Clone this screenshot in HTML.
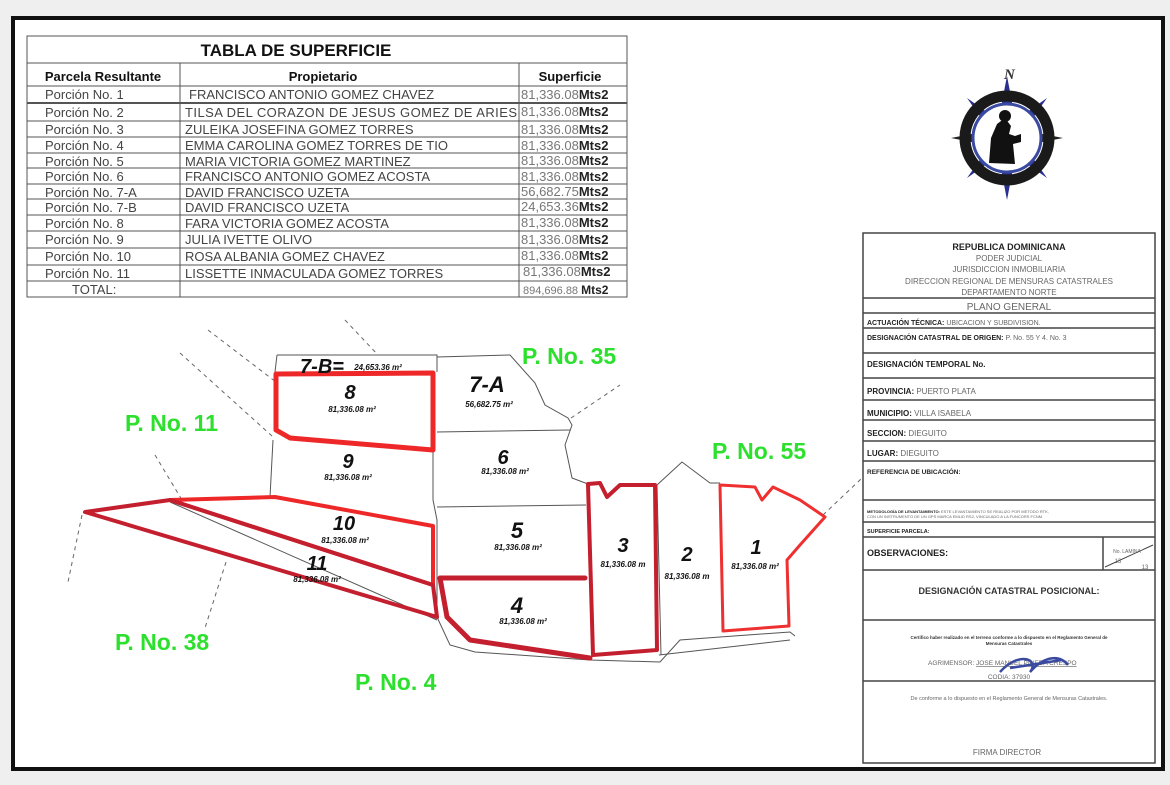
<!DOCTYPE html>
<html><head><meta charset="utf-8"><style>
body{margin:0;width:1170px;height:785px;background:#f2f2f2;position:relative;overflow:hidden;font-family:"Liberation Sans",sans-serif}
</style></head><body>
<svg width="1170" height="785" style="position:absolute;left:0;top:0" font-family="Liberation Sans, sans-serif">
<rect x="0" y="0" width="1170" height="785" fill="#efefef"/>
<rect x="13" y="18" width="1150" height="751" fill="#fff" stroke="#111" stroke-width="4"/>
<g stroke="#555" stroke-width="1" fill="none">
<rect x="27" y="36" width="600" height="261"/>
<line x1="27" y1="63" x2="627" y2="63"/>
<line x1="27" y1="86" x2="627" y2="86"/>
<line x1="27" y1="103" x2="627" y2="103" stroke-width="2"/>
<line x1="27" y1="121" x2="627" y2="121"/>
<line x1="27" y1="137" x2="627" y2="137"/>
<line x1="27" y1="153" x2="627" y2="153"/>
<line x1="27" y1="168" x2="627" y2="168"/>
<line x1="27" y1="184" x2="627" y2="184"/>
<line x1="27" y1="199" x2="627" y2="199"/>
<line x1="27" y1="215" x2="627" y2="215"/>
<line x1="27" y1="231" x2="627" y2="231"/>
<line x1="27" y1="248" x2="627" y2="248"/>
<line x1="27" y1="265" x2="627" y2="265"/>
<line x1="27" y1="281" x2="627" y2="281"/>
<line x1="180" y1="63" x2="180" y2="297"/>
<line x1="519" y1="63" x2="519" y2="297"/>
</g>
<g font-size="13" fill="#333">
<text x="296" y="56" font-size="17" font-weight="bold" fill="#111" text-anchor="middle">TABLA DE SUPERFICIE</text>
<text x="103" y="81" font-weight="bold" text-anchor="middle" fill="#111">Parcela Resultante</text>
<text x="323" y="81" font-weight="bold" text-anchor="middle" fill="#111">Propietario</text>
<text x="570" y="81" font-weight="bold" text-anchor="middle" fill="#111">Superficie</text>
</g>
<g font-size="13" fill="#444">
<text x="45" y="99">Porción No. 1</text><text x="189" y="99">FRANCISCO ANTONIO GOMEZ CHAVEZ</text>
<text x="45" y="117">Porción No. 2</text><text x="185" y="117" textLength="332">TILSA DEL CORAZON DE JESUS GOMEZ DE ARIES</text>
<text x="45" y="134">Porción No. 3</text><text x="185" y="134">ZULEIKA JOSEFINA GOMEZ TORRES</text>
<text x="45" y="150">Porción No. 4</text><text x="185" y="150">EMMA CAROLINA GOMEZ TORRES DE TIO</text>
<text x="45" y="166">Porción No. 5</text><text x="185" y="166">MARIA VICTORIA GOMEZ MARTINEZ</text>
<text x="45" y="181">Porción No. 6</text><text x="185" y="181">FRANCISCO ANTONIO GOMEZ ACOSTA</text>
<text x="45" y="197">Porción No. 7-A</text><text x="185" y="197">DAVID FRANCISCO UZETA</text>
<text x="45" y="212">Porción No. 7-B</text><text x="185" y="212">DAVID FRANCISCO UZETA</text>
<text x="45" y="228">Porción No. 8</text><text x="185" y="228">FARA VICTORIA GOMEZ ACOSTA</text>
<text x="45" y="244">Porción No. 9</text><text x="185" y="244">JULIA IVETTE OLIVO</text>
<text x="45" y="261">Porción No. 10</text><text x="185" y="261">ROSA ALBANIA GOMEZ CHAVEZ</text>
<text x="45" y="278">Porción No. 11</text><text x="185" y="278">LISSETTE INMACULADA GOMEZ TORRES</text>
<text x="72" y="294">TOTAL:</text>
</g>
<g font-size="13" fill="#777">
<text x="521" y="99">81,336.08<tspan font-weight="bold" fill="#222">Mts2</tspan></text>
<text x="521" y="116">81,336.08<tspan font-weight="bold" fill="#222">Mts2</tspan></text>
<text x="521" y="134">81,336.08<tspan font-weight="bold" fill="#222">Mts2</tspan></text>
<text x="521" y="150">81,336.08<tspan font-weight="bold" fill="#222">Mts2</tspan></text>
<text x="521" y="165">81,336.08<tspan font-weight="bold" fill="#222">Mts2</tspan></text>
<text x="521" y="181">81,336.08<tspan font-weight="bold" fill="#222">Mts2</tspan></text>
<text x="521" y="196">56,682.75<tspan font-weight="bold" fill="#222">Mts2</tspan></text>
<text x="521" y="211">24,653.36<tspan font-weight="bold" fill="#222">Mts2</tspan></text>
<text x="521" y="227">81,336.08<tspan font-weight="bold" fill="#222">Mts2</tspan></text>
<text x="521" y="244">81,336.08<tspan font-weight="bold" fill="#222">Mts2</tspan></text>
<text x="521" y="260">81,336.08<tspan font-weight="bold" fill="#222">Mts2</tspan></text>
<text x="523" y="276">81,336.08<tspan font-weight="bold" fill="#222">Mts2</tspan></text>
<text x="523" y="294" font-size="11">894,696.88 <tspan font-weight="bold" fill="#222" font-size="12">Mts2</tspan></text>
</g>
<g transform="translate(1007,138)">
<polygon points="0,-62 10,-10 0,0 -10,-10" fill="#2a2f8f"/>
<polygon points="0,62 10,10 0,0 -10,10" fill="#2a2f8f"/>
<polygon points="-56,0 -10,-9 0,0 -10,9" fill="#222"/>
<polygon points="56,0 10,-9 0,0 10,9" fill="#222"/>
<polygon points="-40,-40 -6,-16 0,0 -16,-6" fill="#2a2f8f"/>
<polygon points="40,-40 6,-16 0,0 16,-6" fill="#2a2f8f"/>
<polygon points="-40,40 -6,16 0,0 -16,6" fill="#2a2f8f"/>
<polygon points="40,40 6,16 0,0 16,6" fill="#2a2f8f"/>
<circle r="42" fill="none" stroke="#1a1a1a" stroke-width="11"/>
<circle r="34" fill="#fff" stroke="#3a4aa0" stroke-width="3"/>
<path d="M-18,25 L-16,0 L-10,-14 L-2,-20 L4,-12 L2,-4 L8,-2 L14,-4 L14,4 L6,6 L8,26 Z" fill="#111"/>
<circle cx="-2" cy="-22" r="6" fill="#111"/>
<text x="-3" y="-59" font-size="15" font-style="italic" font-weight="bold" font-family="Liberation Serif, serif" fill="#333">N</text>
</g>
<g stroke="#444" stroke-width="1.5" fill="none">
<rect x="863" y="233" width="292" height="530"/>
<line x1="863" y1="298" x2="1155" y2="298"/>
<line x1="863" y1="313" x2="1155" y2="313"/>
<line x1="863" y1="328" x2="1155" y2="328"/>
<line x1="863" y1="353" x2="1155" y2="353"/>
<line x1="863" y1="378" x2="1155" y2="378"/>
<line x1="863" y1="400" x2="1155" y2="400"/>
<line x1="863" y1="420" x2="1155" y2="420"/>
<line x1="863" y1="441" x2="1155" y2="441"/>
<line x1="863" y1="461" x2="1155" y2="461"/>
<line x1="863" y1="500" x2="1155" y2="500"/>
<line x1="863" y1="522" x2="1155" y2="522"/>
<line x1="863" y1="537" x2="1155" y2="537"/>
<line x1="863" y1="570" x2="1155" y2="570"/>
<line x1="863" y1="620" x2="1155" y2="620"/>
<line x1="863" y1="681" x2="1155" y2="681"/>
<line x1="1103" y1="537" x2="1103" y2="570"/>
<line x1="1105" y1="567" x2="1153" y2="545" stroke-width="1"/>
</g>
<g font-size="8" fill="#666" text-anchor="middle">
<text x="1009" y="250" font-weight="bold" font-size="9" fill="#222">REPUBLICA DOMINICANA</text>
<text x="1009" y="261">PODER JUDICIAL</text>
<text x="1009" y="272">JURISDICCION INMOBILIARIA</text>
<text x="1009" y="284">DIRECCION REGIONAL DE MENSURAS CATASTRALES</text>
<text x="1009" y="295">DEPARTAMENTO NORTE</text>
<text x="1009" y="310" font-size="10">PLANO GENERAL</text>
<text x="1009" y="594" font-size="9" font-weight="bold" fill="#333">DESIGNACIÓN CATASTRAL POSICIONAL:</text>
<text x="1009" y="639" font-size="4.5" fill="#333" font-weight="bold">Certifico haber realizado en el terreno conforme a lo dispuesto en el Reglamento General de</text>
<text x="1009" y="645" font-size="4.5" fill="#333" font-weight="bold">Mensuras Catastrales</text>
<text x="1009" y="679" font-size="6.5">CODIA: 37930</text>
<text x="1009" y="700" font-size="5.5">De conforme a lo dispuesto en el Reglamento General de Mensuras Catastrales.</text>
<text x="1007" y="755" font-size="8">FIRMA DIRECTOR</text>
<text x="1127" y="553" font-size="5">No. LAMINA</text>
<text x="1118" y="563" font-size="6">13</text>
<text x="1145" y="569" font-size="6">13</text>
</g>
<g font-size="7" fill="#666">
<text x="867" y="325"><tspan font-weight="bold" fill="#222">ACTUACIÓN TÉCNICA:</tspan> UBICACION  Y SUBDIVISION.</text>
<text x="867" y="340"><tspan font-weight="bold" fill="#222">DESIGNACIÓN CATASTRAL DE ORIGEN:</tspan> P. No. 55 Y 4. No. 3</text>
<text x="867" y="367" font-size="8"><tspan font-weight="bold" fill="#222">DESIGNACIÓN TEMPORAL No.</tspan></text>
<text x="867" y="394" font-size="8"><tspan font-weight="bold" fill="#222">PROVINCIA:</tspan> PUERTO PLATA</text>
<text x="867" y="416" font-size="8"><tspan font-weight="bold" fill="#222">MUNICIPIO:</tspan> VILLA ISABELA</text>
<text x="867" y="436" font-size="8"><tspan font-weight="bold" fill="#222">SECCION:</tspan> DIEGUITO</text>
<text x="867" y="456" font-size="8"><tspan font-weight="bold" fill="#222">LUGAR:</tspan> DIEGUITO</text>
<text x="867" y="474" font-size="6.5"><tspan font-weight="bold" fill="#222">REFERENCIA DE UBICACIÓN:</tspan></text>
<text x="867" y="513" font-size="4"><tspan font-weight="bold" fill="#222">METODOLOGÍA DE LEVANTAMIENTO:</tspan> ESTE LEVANTAMIENTO SE REALIZO POR METODO RTK,</text>
<text x="867" y="518" font-size="4">CON UN INSTRUMENTO DE UN GPS MARCA EMLID RS2, VINCULADO A LA FUNCORS FCNM.</text>
<text x="867" y="533" font-size="5.5"><tspan font-weight="bold" fill="#222">SUPERFICIE PARCELA:</tspan></text>
<text x="867" y="556" font-size="9"><tspan font-weight="bold" fill="#222">OBSERVACIONES:</tspan></text>
<text x="928" y="665" font-size="6.5">AGRIMENSOR: <tspan text-decoration="underline">JOSE MANUEL PINEDA CRESPO</tspan></text>
</g>
<path d="M1000,672 C1020,650 1040,660 1030,672 C1045,655 1060,655 1068,665 M1010,668 L1062,660" stroke="#3a4aa0" stroke-width="2.5" fill="none"/>
<g stroke="#666" stroke-width="1" stroke-dasharray="4,4" fill="none">
<line x1="345" y1="320" x2="378" y2="355"/>
<line x1="208" y1="330" x2="276" y2="382"/>
<line x1="180" y1="353" x2="272" y2="436"/>
<line x1="155" y1="455" x2="182" y2="500"/>
<line x1="82" y1="515" x2="68" y2="582"/>
<line x1="226" y1="562" x2="205" y2="628"/>
<line x1="571" y1="418" x2="620" y2="385"/>
<line x1="823" y1="515" x2="862" y2="478"/>
</g>
<g stroke="#555" stroke-width="1" fill="none">
<polyline points="277,355 437,355 437,372"/>
<line x1="277" y1="355" x2="275" y2="372"/>
<polyline points="437,357 510,355 535,383 545,405 568,418 572,425 565,445 572,478 588,484"/>
<polyline points="273,440 270,497"/>
<line x1="437" y1="432" x2="570" y2="430"/>
<line x1="437" y1="507" x2="586" y2="505"/>
<polyline points="433,450 433,500 437,520 437,617"/>
<polyline points="170,502 437,620"/>
<polyline points="437,617 450,645 475,652 590,660 660,662 680,640 720,637 790,632 795,636"/>
<polyline points="657,485 682,462 710,483 720,483"/>
<line x1="657" y1="485" x2="661" y2="655"/>
<line x1="659" y1="655" x2="790" y2="640"/>
</g>
<g fill="none" stroke-linejoin="round" stroke-linecap="round">
<path d="M276,374 L433,373 L433,450 L290,438 L276,430 Z" stroke="#ee2828" stroke-width="5"/>
<path d="M170,500 L275,497 L433,526 L433,585 M170,500 L433,585" stroke="#ee2828" stroke-width="4"/>
<path d="M85,512 L170,500 L433,585 L437,617 L85,512 Z" stroke="#c41f2e" stroke-width="4"/>
<path d="M440,578 L585,578 M440,578 L447,617 L470,640 L590,658" stroke="#c41f2e" stroke-width="5"/>
<path d="M588,484 L600,483 L607,497 L620,485 L655,485 L657,650 L593,655 Z" stroke="#c41f2e" stroke-width="4"/>
<path d="M720,485 L755,487 L762,500 L773,487 L800,500 L825,517 L800,545 L787,560 L789,626 L723,631 Z" stroke="#ee3030" stroke-width="3"/>
</g>
<g font-family="Liberation Sans, sans-serif" font-style="italic" fill="#111" text-anchor="middle">
<text x="322" y="373" font-size="20" font-weight="bold">7-B=</text>
<text x="378" y="370" font-size="8" font-weight="bold">24,653.36 m²</text>
<text x="350" y="399" font-size="20" font-weight="bold">8</text>
<text x="352" y="412" font-size="8" font-weight="bold">81,336.08 m²</text>
<text x="487" y="392" font-size="22" font-weight="bold">7-A</text>
<text x="489" y="407" font-size="8" font-weight="bold">56,682.75 m²</text>
<text x="348" y="468" font-size="20" font-weight="bold">9</text>
<text x="348" y="480" font-size="8" font-weight="bold">81,336.08 m²</text>
<text x="503" y="464" font-size="20" font-weight="bold">6</text>
<text x="505" y="474" font-size="8" font-weight="bold">81,336.08 m²</text>
<text x="344" y="530" font-size="20" font-weight="bold">10</text>
<text x="345" y="543" font-size="8" font-weight="bold">81,336.08 m²</text>
<text x="517" y="538" font-size="22" font-weight="bold">5</text>
<text x="518" y="550" font-size="8" font-weight="bold">81,336.08 m²</text>
<text x="317" y="570" font-size="20" font-weight="bold">11</text>
<text x="317" y="582" font-size="8" font-weight="bold">81,336.08 m²</text>
<text x="517" y="613" font-size="22" font-weight="bold">4</text>
<text x="523" y="624" font-size="8" font-weight="bold">81,336.08 m²</text>
<text x="623" y="552" font-size="20" font-weight="bold">3</text>
<text x="623" y="567" font-size="8" font-weight="bold">81,336.08 m</text>
<text x="687" y="561" font-size="20" font-weight="bold">2</text>
<text x="687" y="579" font-size="8" font-weight="bold">81,336.08 m</text>
<text x="756" y="554" font-size="20" font-weight="bold">1</text>
<text x="755" y="569" font-size="8" font-weight="bold">81,336.08 m²</text>
</g>
<g font-size="23" font-weight="bold" fill="#2ee02e" font-family="Liberation Sans Narrow, Liberation Sans, sans-serif">
<text x="125" y="431">P. No. 11</text>
<text x="522" y="364">P. No. 35</text>
<text x="712" y="459">P. No. 55</text>
<text x="115" y="650">P. No. 38</text>
<text x="355" y="690">P. No. 4</text>
</g>
</svg>
</body></html>
